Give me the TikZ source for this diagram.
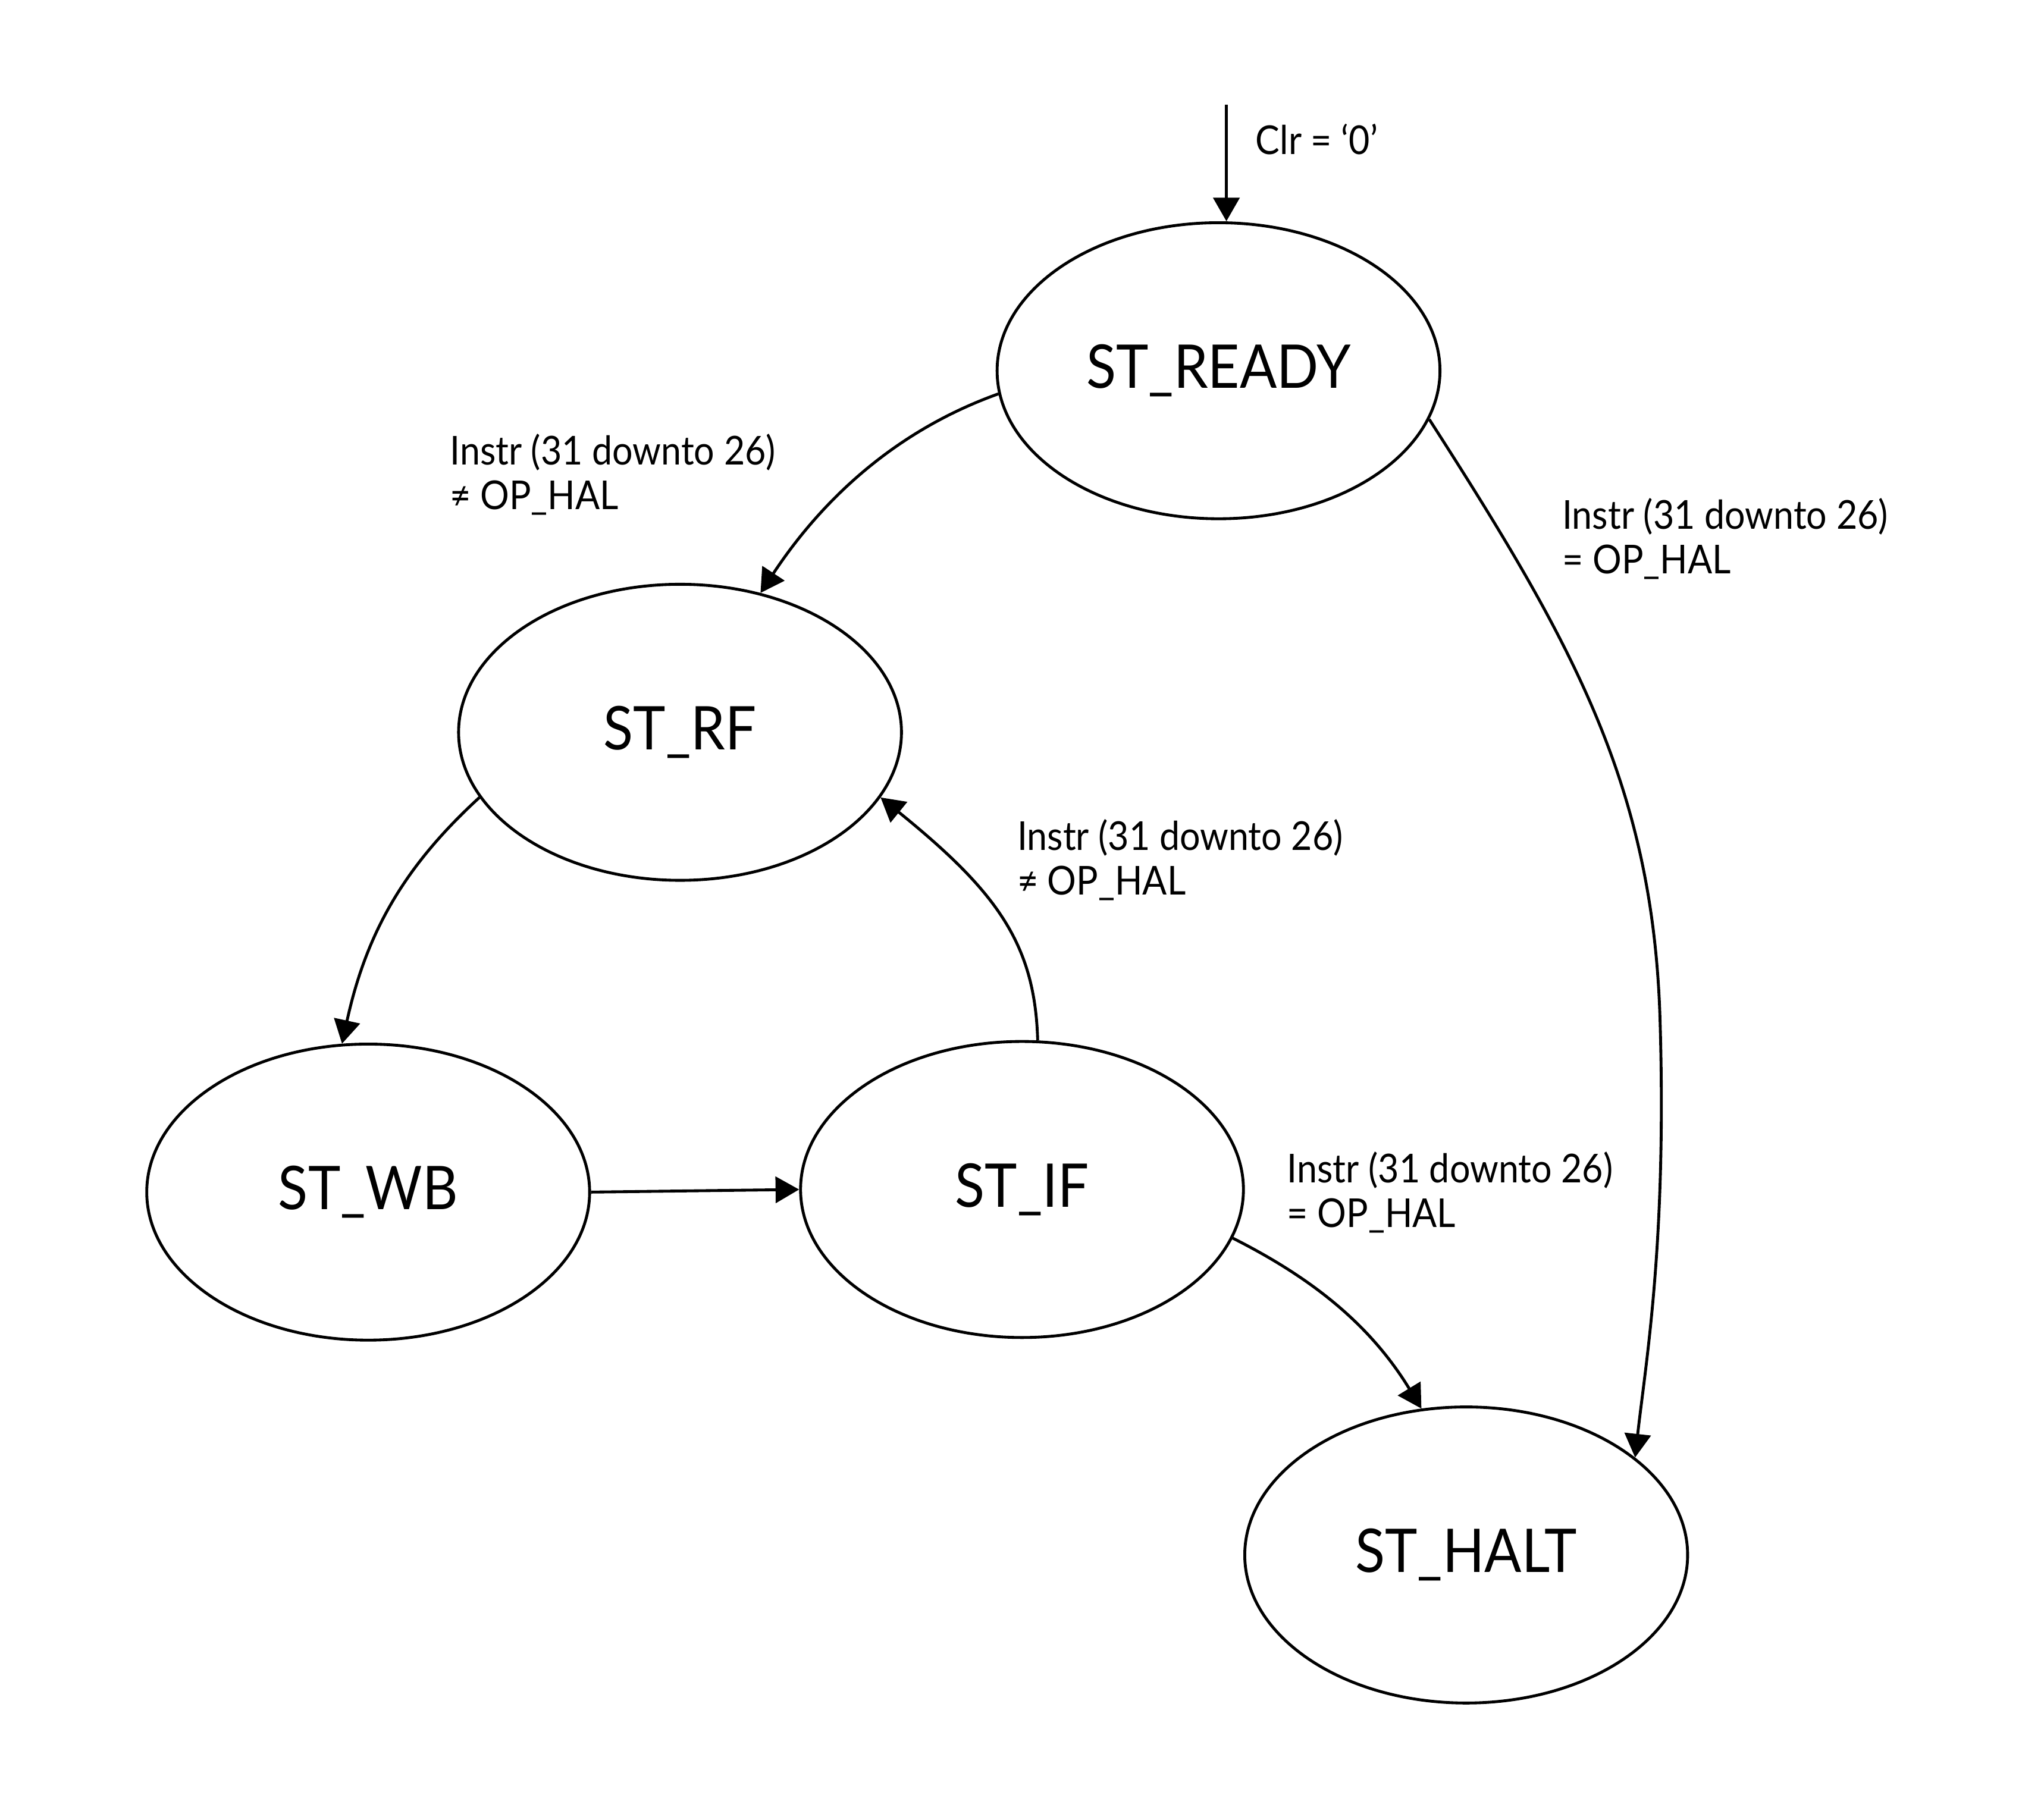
\documentclass[tikz,border=0pt]{standalone}
\usepackage{fontspec}
\setmainfont{Lato}[FakeStretch=0.91]
\usetikzlibrary{shapes.geometric, arrows.meta}

\tikzset{
  stnode/.style={draw, ellipse, line width=1.1pt, minimum width=169pt, minimum height=113pt, inner sep=0pt, font=\fontsize{23}{28}\selectfont},
  cond/.style={anchor=base west, align=left, inner sep=0pt, font=\fontsize{15.2}{17}\selectfont},
  trans/.style={line width=1.1pt, -{Triangle[length=9pt, width=10pt]}}
}

\begin{document}
\begin{tikzpicture}[x=0.5pt, y=-0.5pt]
	\useasboundingbox (0,0) rectangle (1560,1387);
	% states
	\node[stnode] (ready) at (930,283) {ST\_READY};
	\node[stnode] (rf) at (519,559) {ST\_RF};
	\node[stnode] (wb) at (281,910) {ST\_WB};
	\node[stnode] (if) at (780,908) {ST\_IF};
	\node[stnode] (halt) at (1119,1187) {ST\_HALT};
	% reset
	\coordinate (R) at (936,80);
	\draw[trans] (R) -- (ready.north -| R);
	\node[cond] (clr) at (958,118) {Clr = ‘0’};
	% transitions
	\draw[trans] (ready.186) .. controls (680,330) and (625,385) .. (rf.60);
	\draw[trans] (ready.347) .. controls (1200,490) and (1262,600) .. (1267,780) .. controls (1272,950) and (1256,1040) .. (halt.30);
	\draw[trans] (rf.198) .. controls (310,660) and (280,710) .. (wb.100);
	\draw[trans] (if.84) .. controls (790,720) and (760,680) .. (rf.342);
	\draw[trans] (wb.east) -- (if.west);
	\draw[trans] (if.347) .. controls (1000,975) and (1045,1010) .. (halt.107);
	% conditions
	\node[cond] (c1) at (343,389) {Instr (31 downto 26)\\≠ OP\_HAL};
	\node[cond] (c2) at (1192,438) {Instr (31 downto 26)\\= OP\_HAL};
	\node[cond] (c3) at (776,683) {Instr (31 downto 26)\\≠ OP\_HAL};
	\node[cond] (c4) at (982,937) {Instr (31 downto 26)\\= OP\_HAL};
\end{tikzpicture}
\end{document}
